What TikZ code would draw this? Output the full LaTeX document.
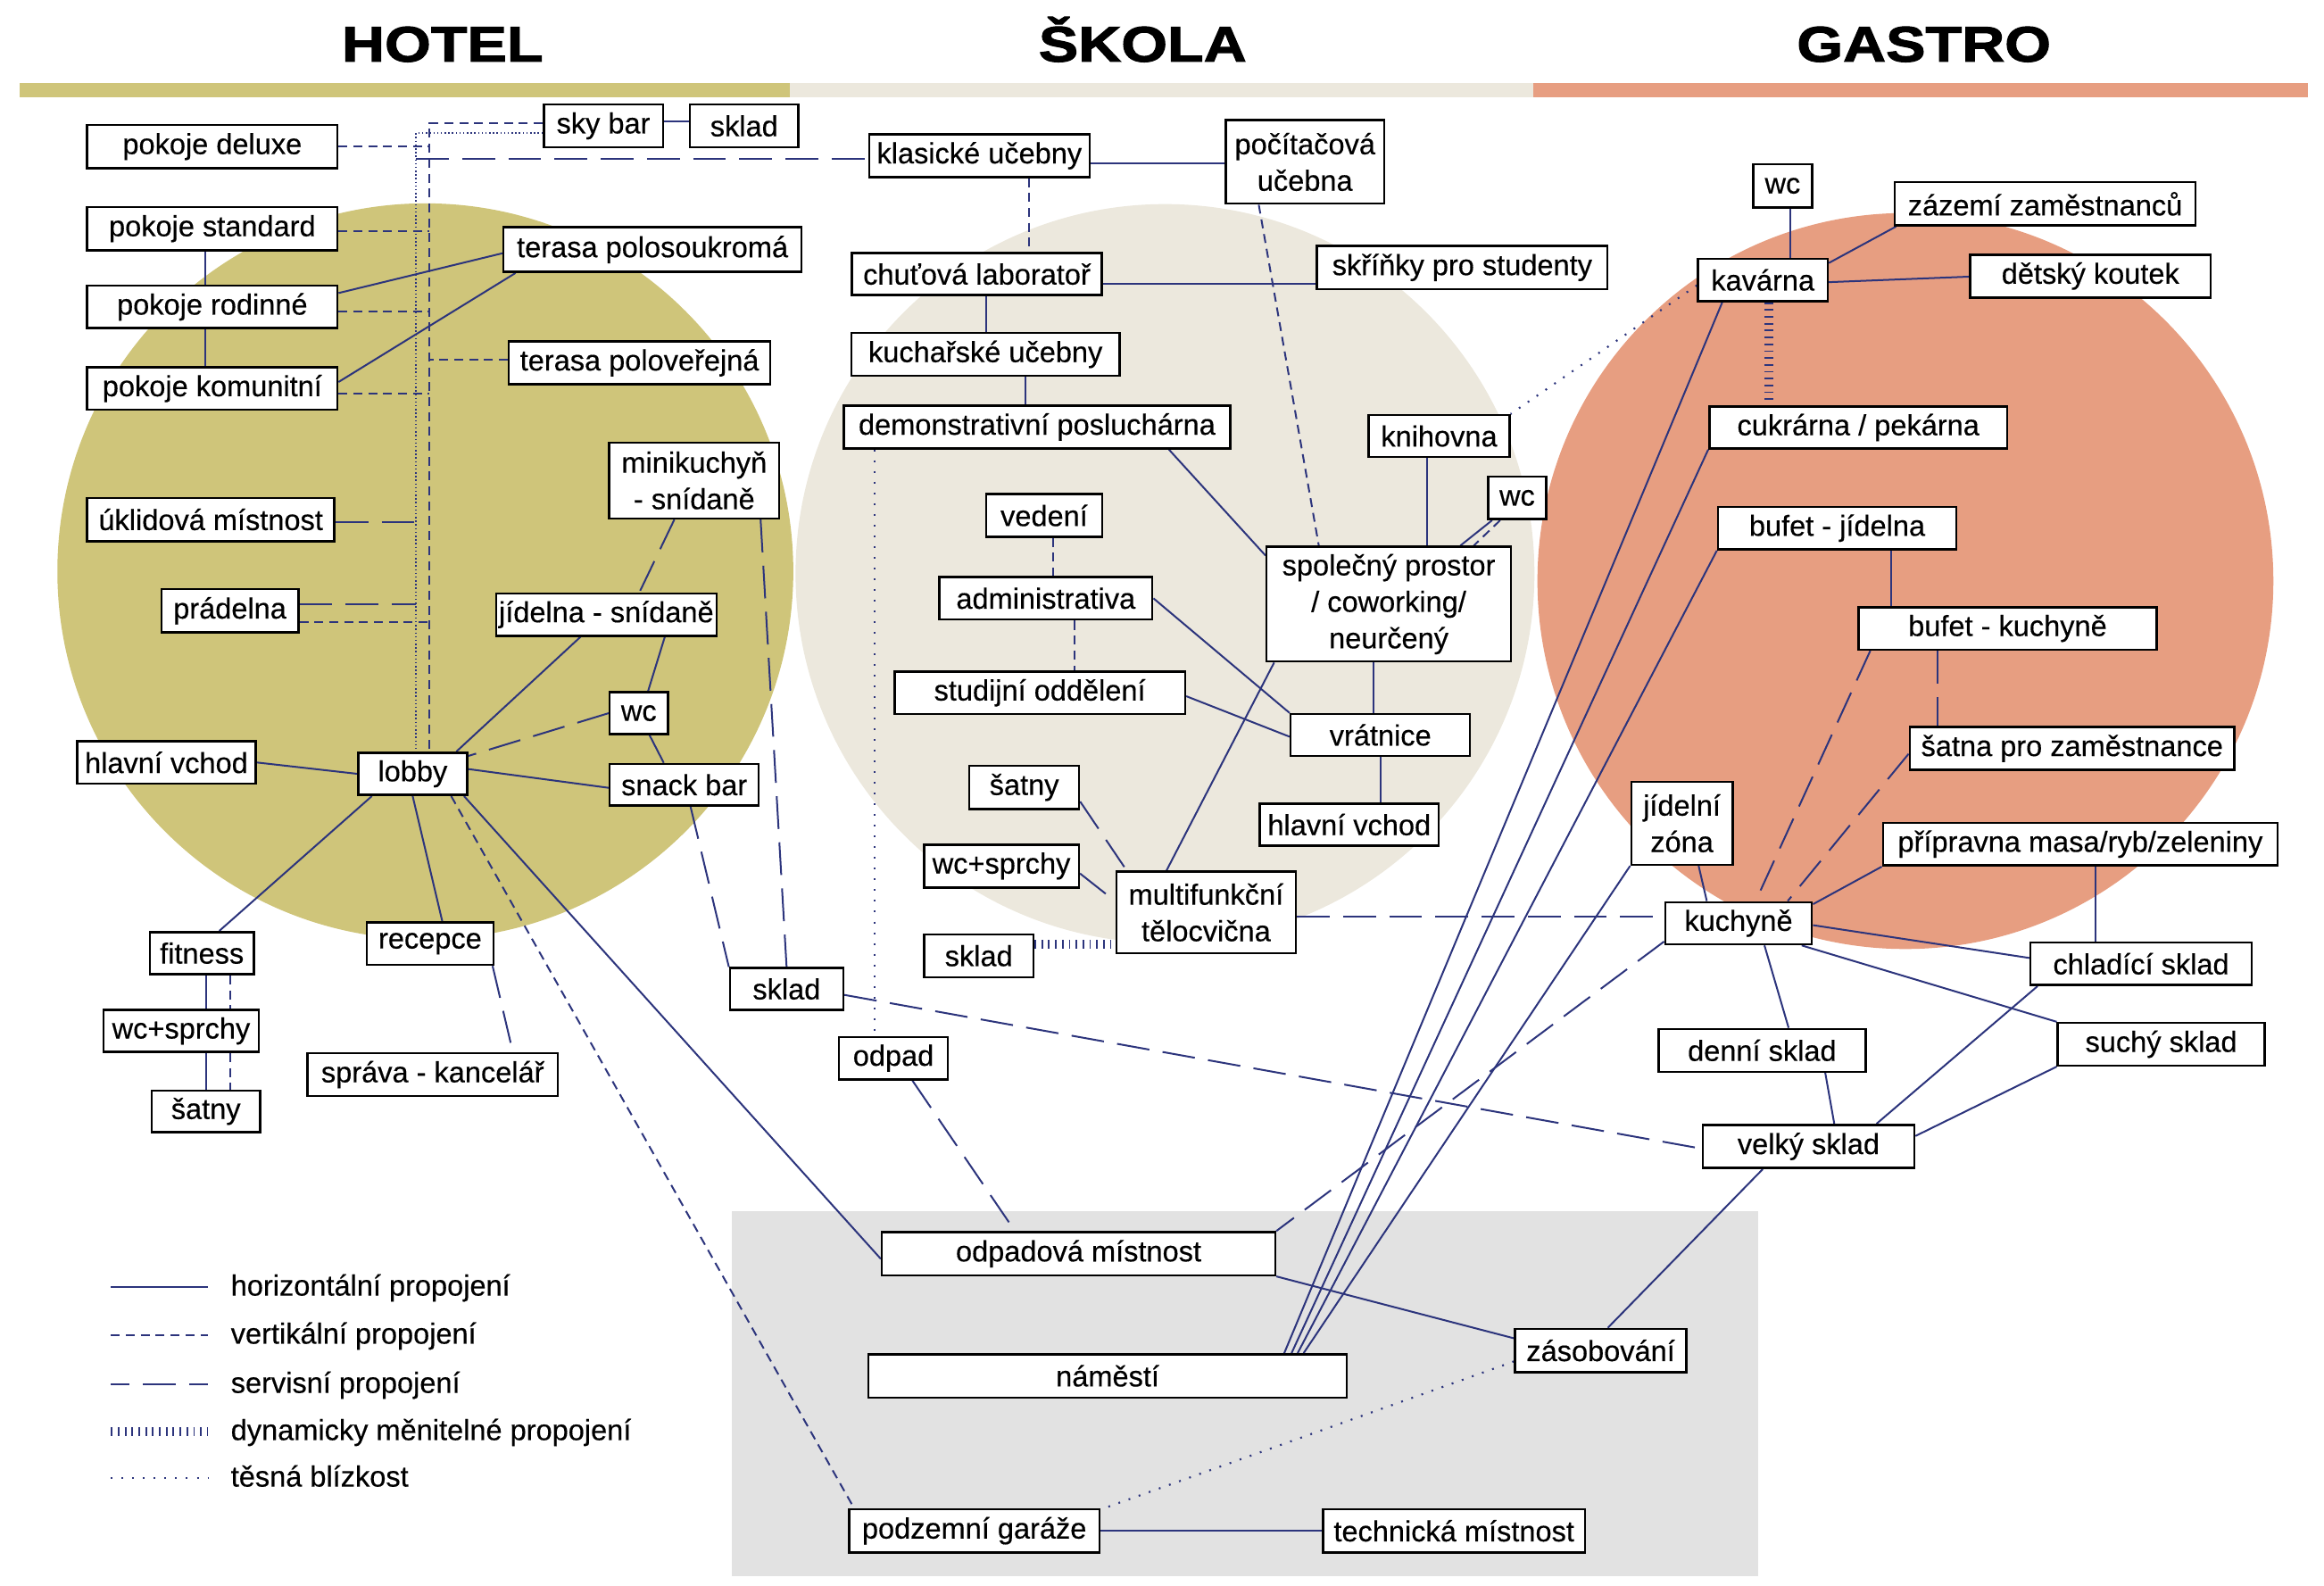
\documentclass[tikz,border=0pt]{standalone}
\usepackage{fontspec}
\setmainfont{Liberation Sans}[FakeBold=0.35]
\newfontfamily\titlefont{Liberation Sans}[FakeStretch=1.19,FakeBold=2]
\usetikzlibrary{calc}
\definecolor{navyline}{RGB}{44,52,124}
\definecolor{olivec}{RGB}{207,197,122}
\definecolor{beigec}{RGB}{236,232,221}
\definecolor{salmonc}{RGB}{231,158,129}
\definecolor{basegray}{RGB}{226,226,226}
\pgfdeclarelayer{back}
\pgfdeclarelayer{edges}
\pgfsetlayers{back,edges,main}
\tikzset{
 box/.style={draw=black, line width=1.5pt, fill=white, inner sep=0pt, align=center, font=\fontsize{19.5}{24.5}\selectfont},
 hconn/.style={draw=navyline, line width=1.2pt},
 vconn/.style={draw=navyline, line width=1.2pt, dash pattern=on 6pt off 4pt},
 sconn/.style={draw=navyline, line width=1.2pt, dash pattern=on 22pt off 9pt},
 dconn/.style={draw=navyline, line width=6pt, dash pattern=on 1.1pt off 3.5pt},
 pconn/.style={draw=navyline, line width=1.3pt, dash pattern=on 1.2pt off 6pt},
 ptight/.style={draw=navyline, line width=1pt, dash pattern=on 0.9pt off 1.6pt},
 ttl/.style={font=\titlefont\bfseries\fontsize{33.5}{36}\selectfont, anchor=base, inner sep=0pt},
 legtext/.style={font=\fontsize{19.5}{24}\selectfont, anchor=base west, inner sep=0pt},
}
\newcommand{\mybox}[6]{\node[box, minimum width=#4pt, minimum height=#5pt] (#1) at (#2,#3) {#6};}
\begin{document}
\begin{tikzpicture}[x=1pt,y=-1pt]
\useasboundingbox (0,0) rectangle (1560,1064);
\begin{pgfonlayer}{back}
\fill[olivec] (285.5,383.5) circle [radius=247pt];
\fill[beigec] (782,385) circle [radius=248pt];
\fill[salmonc] (1279,390) circle [radius=247pt];
\fill[olivec] (13,55.7) rectangle (530,65.4);
\fill[beigec] (530,55.7) rectangle (1029,65.4);
\fill[salmonc] (1029,55.7) rectangle (1549,65.4);
\fill[basegray] (491,813) rectangle (1180,1058);
\end{pgfonlayer}

% titles
\node[ttl] (thotel) at (297,41.3) {HOTEL};
\node[ttl] (tskola) at (767,41.3) {ŠKOLA};
\node[ttl] (tgastro) at (1291.4,41.3) {GASTRO};

% HOTEL nodes
\mybox{deluxe}{142.5}{98.4}{168}{29}{pokoje deluxe}
\mybox{skybar}{405}{84.5}{80}{29}{sky bar}
\mybox{skladtop}{499.5}{84.5}{73}{29}{sklad}
\mybox{standard}{142.5}{153.5}{168}{29}{pokoje standard}
\mybox{rodinne}{142.5}{206}{168}{28.5}{pokoje rodinné}
\mybox{komunitni}{142.5}{260.8}{168}{28.5}{pokoje komunitní}
\mybox{polosoukroma}{438}{167.5}{200}{30}{terasa polosoukromá}
\mybox{poloverejna}{429.3}{243.5}{175.4}{29}{terasa poloveřejná}
\mybox{minikuchyn}{466}{322.5}{114}{51}{minikuchyň\\- snídaně}
\mybox{uklidova}{141.5}{348.7}{166}{29}{úklidová místnost}
\mybox{pradelna}{154.3}{410}{92}{29}{prádelna}
\mybox{jidelna}{407}{412.5}{148}{28.5}{jídelna - snídaně}
\mybox{wchotel}{428.8}{478.7}{39}{28}{wc}
\mybox{hlavnivchod}{111.7}{511.8}{120}{28.6}{hlavní vchod}
\mybox{lobby}{277}{519.4}{73}{28.4}{lobby}
\mybox{snackbar}{459.3}{526.8}{100}{28}{snack bar}
\mybox{fitness}{135.5}{639.8}{70}{28.4}{fitness}
\mybox{recepce}{288.7}{633.4}{85}{28.4}{recepce}
\mybox{wcsprchyH}{121.6}{692}{104}{28.3}{wc+sprchy}
\mybox{sprava}{290.4}{721.3}{168}{28.6}{správa - kancelář}
\mybox{satnyH}{138.2}{746}{73}{28}{šatny}
\mybox{skladmid}{528}{663.8}{76}{28}{sklad}

% SKOLA nodes
\mybox{klasicke}{657.4}{104.5}{148}{28.7}{klasické učebny}
\mybox{pocitacova}{876}{108.7}{106.6}{56}{počítačová\\učebna}
\mybox{chutova}{655.7}{183.9}{168}{28.4}{chuťová laboratoř}
\mybox{skrinky}{981.5}{179.5}{195}{29}{skříňky pro studenty}
\mybox{kucharske}{661.5}{237.9}{180}{28.6}{kuchařské učebny}
\mybox{demonstr}{696.1}{286.6}{259.4}{28.8}{demonstrativní posluchárna}
\mybox{knihovna}{966}{292.7}{94.6}{28.2}{knihovna}
\mybox{wcskola}{1018.4}{334.2}{39}{28.6}{wc}
\mybox{vedeni}{700.9}{346}{77.8}{28.7}{vedení}
\mybox{administrativa}{702}{401.6}{143}{28.6}{administrativa}
\mybox{studijni}{698}{465}{195}{28.6}{studijní oddělení}
\mybox{satnyS}{687.5}{528.5}{73.6}{29}{šatny}
\mybox{wcsprchyS}{672.2}{581.3}{104}{28.7}{wc+sprchy}
\mybox{skladS}{657}{641.5}{73.3}{28.7}{sklad}
\mybox{multifunkcni}{809.6}{612.4}{120.4}{54.8}{multifunkční\\tělocvična}
\mybox{spolecny}{932.2}{405.5}{164}{77}{společný prostor\\/ coworking/\\neurčený}
\mybox{vratnice}{926.6}{493.3}{120.4}{28}{vrátnice}
\mybox{hlavnivchodS}{905.7}{553.5}{120}{28}{hlavní vchod}
\mybox{odpad}{599.7}{710.3}{73}{28.6}{odpad}

% GASTRO nodes
\mybox{wcG}{1196.6}{124.7}{39.7}{29}{wc}
\mybox{zazemi}{1372.8}{136.8}{202}{29}{zázemí zaměstnanců}
\mybox{kavarna}{1183.3}{187.9}{87}{28.6}{kavárna}
\mybox{detsky}{1403.2}{185.3}{161.3}{28.7}{dětský koutek}
\mybox{cukrarna}{1247.4}{287}{200}{28}{cukrárna / pekárna}
\mybox{bufetjid}{1233.2}{354.5}{160}{28.6}{bufet - jídelna}
\mybox{bufetkuch}{1347.6}{421.8}{200}{28.4}{bufet - kuchyně}
\mybox{satnaZam}{1390.9}{502.4}{218}{28.7}{šatna pro zaměstnance}
\mybox{jidelnizona}{1129}{552.6}{68}{55.6}{jídelní\\zóna}
\mybox{pripravna}{1396.4}{566.6}{265}{28.7}{přípravna masa/ryb/zeleniny}
\mybox{kuchyne}{1167}{619.7}{98.5}{28.3}{kuchyně}
\mybox{chladici}{1437.2}{646.9}{148.5}{28.6}{chladící sklad}
\mybox{denni}{1182.8}{705}{139}{28.7}{denní sklad}
\mybox{suchy}{1450.7}{700.9}{138.8}{28.6}{suchý sklad}
\mybox{velky}{1214}{769.5}{142}{29}{velký sklad}

% basement nodes
\mybox{odpadova}{724}{841.5}{264}{29}{odpadová místnost}
\mybox{namesti}{743.5}{923.5}{321}{29}{náměstí}
\mybox{zasobovani}{1074.5}{906.5}{115}{29}{zásobování}
\mybox{garaze}{654}{1027.5}{168}{29}{podzemní garáže}
\mybox{technicka}{976}{1027.5}{176}{29}{technická místnost}

\begin{pgfonlayer}{edges}
% ---- HOTEL
\coordinate (vtop) at (288.3,82.5);
\coordinate (dtop) at (279.3,89.4);
\coordinate (stop) at (279.3,106.6);
\draw[hconn] ([yshift=3pt]skybar.east) -- ([yshift=3pt]skladtop.west);
\draw[vconn] ([yshift=2pt]skybar.west) -- (vtop) -- (vtop |- lobby.north);
\draw[ptight] ([yshift=-4.9pt]skybar.west) -- (dtop) -- (dtop |- lobby.north);
\draw[sconn] (stop) -- (stop -| klasicke.west);
\draw[vconn] (deluxe.east) -- (deluxe.east -| vtop);
\coordinate (h1) at ([yshift=-1.5pt]standard.east);
\draw[vconn] (h1) -- (h1 -| vtop);
\coordinate (h2) at ([yshift=-3pt]rodinne.east);
\draw[vconn] (h2) -- (h2 -| vtop);
\coordinate (h3) at ([yshift=-3.2pt]komunitni.east);
\draw[vconn] (h3) -- (h3 -| vtop);
\coordinate (h4) at ([yshift=2pt]poloverejna.west);
\draw[vconn] (h4) -- (h4 -| vtop);
\coordinate (h5) at ([xshift=-5pt]standard.south);
\draw[hconn] (h5) -- (h5 |- rodinne.north);
\coordinate (h6) at ([xshift=-5pt]rodinne.south);
\draw[hconn] (h6) -- (h6 |- komunitni.north);
\draw[hconn] ([yshift=9.3pt]rodinne.east) -- ([yshift=-2.5pt]polosoukroma.west);
\draw[hconn] ([yshift=4.4pt]komunitni.east) -- ([xshift=8.8pt]polosoukroma.south west);
\coordinate (h7) at ([yshift=-1.7pt]uklidova.east);
\draw[sconn] (h7) -- (h7 -| dtop);
\coordinate (h8) at ([yshift=4.3pt]pradelna.east);
\draw[sconn] (h8) -- (h8 -| dtop);
\coordinate (h9) at ([yshift=-7.8pt]pradelna.east);
\draw[vconn] (h9) -- (h9 -| vtop);
\draw[sconn] ([xshift=44.4pt]minikuchyn.south west) -- ([xshift=97pt]jidelna.north west);
\draw[sconn] ([xshift=-13.2pt]minikuchyn.south east) -- (skladmid.north);
\draw[hconn] ([xshift=57.4pt]jidelna.south west) -- ([xshift=-7.9pt]lobby.north east);
\draw[hconn] ([xshift=-35.5pt]jidelna.south east) -- ([xshift=6.2pt]wchotel.north);
\draw[hconn] ([xshift=7.2pt]wchotel.south) -- ([xshift=37pt]snackbar.north west);
\draw[sconn] (wchotel.west) -- ([yshift=-3pt]lobby.north east);
\draw[hconn] (hlavnivchod.east) -- (lobby.west);
\draw[hconn] ([yshift=3.2pt]lobby.east) -- ([yshift=-2pt]snackbar.west);
\draw[hconn] ([xshift=9.9pt]lobby.south west) -- ([xshift=11.7pt]fitness.north);
\draw[hconn] (lobby.south) -- ([xshift=8.2pt]recepce.north);
\draw[vconn] ([xshift=-11.4pt]lobby.south east) -- ([xshift=4pt]garaze.north west);
\draw[hconn] ([xshift=-2.8pt]lobby.south east) -- ([yshift=-3.5pt]odpadova.west);
\draw[sconn] ([xshift=-1.3pt]recepce.south east) -- ([xshift=138.6pt]sprava.north west);
\draw[sconn] ([xshift=55pt]snackbar.south west) -- (skladmid.north west);
\coordinate (h10) at ([xshift=2.8pt]fitness.south);
\draw[hconn] (h10) -- (h10 |- wcsprchyH.north);
\coordinate (h11) at ([xshift=18.9pt]fitness.south);
\draw[vconn] (h11) -- (h11 |- wcsprchyH.north);
\coordinate (h12) at ([xshift=16.7pt]wcsprchyH.south);
\draw[hconn] (h12) -- (h12 |- satnyH.north);
\coordinate (h13) at ([xshift=32.8pt]wcsprchyH.south);
\draw[vconn] (h13) -- (h13 |- satnyH.north);
\draw[sconn] ([yshift=-4pt]skladmid.east) -- ([yshift=-1.5pt]velky.west);
% ---- SKOLA
\coordinate (s1) at ([yshift=-4.9pt]klasicke.east);
\draw[hconn] (s1) -- (s1 -| pocitacova.west);
\coordinate (s2) at ([xshift=33.6pt]klasicke.south);
\draw[vconn] (s2) -- (s2 |- chutova.north);
\coordinate (s3) at ([yshift=-6.9pt]chutova.east);
\draw[hconn] (s3) -- (s3 -| skrinky.west);
\coordinate (s4) at ([xshift=6.3pt]chutova.south);
\draw[hconn] (s4) -- (s4 |- kucharske.north);
\coordinate (s5) at ([xshift=26.7pt]kucharske.south);
\draw[hconn] (s5) -- (s5 |- demonstr.north);
\draw[vconn] ([xshift=23pt]pocitacova.south west) -- ([xshift=35.8pt]spolecny.north west);
\draw[hconn] ([xshift=219pt]demonstr.south west) -- ([yshift=-6.6pt]spolecny.north west);
\coordinate (s6) at ([xshift=21.3pt]demonstr.south west);
\draw[pconn] (s6) -- (s6 |- odpad.north);
\coordinate (s7) at ([xshift=-7.8pt]knihovna.south);
\draw[hconn] (s7) -- (s7 |- spolecny.north);
\draw[hconn] ([xshift=3.4pt]wcskola.south west) -- ([xshift=130.8pt]spolecny.north west);
\draw[vconn] ([xshift=8.8pt]wcskola.south west) -- ([xshift=139.8pt]spolecny.north west);
\coordinate (s8) at ([xshift=6.2pt]vedeni.south);
\draw[vconn] (s8) -- (s8 |- administrativa.north);
\coordinate (s9) at ([xshift=19.5pt]administrativa.south);
\draw[vconn] (s9) -- (s9 |- studijni.north);
\draw[hconn] (administrativa.east) -- (vratnice.north west);
\draw[hconn] ([yshift=-2.3pt]studijni.east) -- ([yshift=-1.2pt]vratnice.west);
\coordinate (s10) at ([xshift=-10.1pt]spolecny.south);
\draw[hconn] (s10) -- (s10 |- vratnice.north);
\draw[hconn] (vratnice.south) -- (vratnice.south |- hlavnivchodS.north);
\draw[hconn] ([xshift=5.8pt]spolecny.south west) -- ([xshift=34.4pt]multifunkcni.north west);
\draw[sconn] ([yshift=-9.5pt]satnyS.east) -- ([xshift=7.6pt]multifunkcni.north west);
\draw[sconn] ([yshift=-5pt]wcsprchyS.east) -- ([yshift=7.4pt]multifunkcni.west);
\coordinate (s11) at ([yshift=7.5pt]skladS.east);
\draw[dconn] (s11) -- (s11 -| multifunkcni.west);
\coordinate (s12) at ([yshift=-2.6pt]multifunkcni.east);
\draw[sconn] (s12) -- (s12 -| kuchyne.west);
\draw[sconn] ([xshift=12.8pt]odpad.south) -- ([xshift=90pt]odpadova.north west);
% ---- GASTRO
\coordinate (g1) at ([xshift=5.1pt]wcG.south);
\draw[hconn] (g1) -- (g1 |- kavarna.north);
\draw[hconn] ([yshift=-3.7pt]kavarna.north east) -- ([xshift=1.7pt]zazemi.south west);
\draw[hconn] ([yshift=-1.5pt]kavarna.east) -- ([yshift=-0.4pt]detsky.west);
\coordinate (g2) at ([xshift=4.2pt]kavarna.south);
\draw[dconn] (g2) -- (g2 |- cukrarna.north);
\draw[pconn] ([yshift=-3.6pt]kavarna.west) -- (knihovna.north east);
\draw[hconn] ([xshift=17pt]kavarna.south west) -- ([xshift=279.8pt]namesti.north west);
\draw[hconn] (cukrarna.south west) -- ([xshift=284.7pt]namesti.north west);
\draw[hconn] (bufetjid.south west) -- ([xshift=288.8pt]namesti.north west);
\draw[hconn] (jidelnizona.south west) -- ([xshift=292.8pt]namesti.north west);
\coordinate (g3) at ([xshift=36.2pt]bufetjid.south);
\draw[hconn] (g3) -- (g3 |- bufetkuch.north);
\draw[sconn] ([xshift=8.6pt]bufetkuch.south west) -- ([xshift=61.5pt]kuchyne.north west);
\coordinate (g4) at ([xshift=-46.8pt]bufetkuch.south);
\draw[sconn] (g4) -- (g4 |- satnaZam.north);
\draw[sconn] ([yshift=-3.6pt]satnaZam.west) -- ([xshift=-17pt]kuchyne.north east);
\draw[hconn] (pripravna.south west) -- ([yshift=-2.1pt]kuchyne.north east);
\coordinate (g5) at ([xshift=10.1pt]pripravna.south);
\draw[hconn] (g5) -- (g5 |- chladici.north);
\draw[hconn] ([xshift=11.2pt]jidelnizona.south) -- ([xshift=28.7pt]kuchyne.north west);
\draw[hconn] ([yshift=-1.3pt]kuchyne.east) -- ([yshift=3.9pt]chladici.west);
\draw[hconn] ([xshift=-7.6pt]kuchyne.south east) -- (suchy.north west);
\draw[hconn] ([xshift=17.4pt]kuchyne.south) -- ([xshift=17.8pt]denni.north);
\draw[hconn] ([xshift=42.4pt]denni.south) -- ([xshift=89pt]velky.north west);
\draw[hconn] ([xshift=5.5pt]chladici.south west) -- ([xshift=117.4pt]velky.north west);
\draw[hconn] (suchy.south west) -- ([yshift=7pt]velky.east);
\draw[hconn] ([xshift=41pt]velky.south west) -- ([xshift=63pt]zasobovani.north west);
\draw[hconn] (odpadova.south east) -- ([yshift=8.2pt]zasobovani.west);
\draw[sconn] ([yshift=2.6pt]kuchyne.south west) -- (odpadova.north east);
\draw[pconn] ([yshift=-7.3pt]zasobovani.west) -- ([xshift=2.6pt]garaze.north east);
\draw[hconn] (garaze.east) -- (technicka.west);
\end{pgfonlayer}

% legend
\coordinate (l1a) at (74.5,864);   \coordinate (l1b) at (139.5,864);
\coordinate (l2a) at (74.5,896.3); \coordinate (l2b) at (139.5,896.3);
\coordinate (l3a) at (74.5,929.3); \coordinate (l3b) at (139.5,929.3);
\coordinate (l4a) at (74.5,961);   \coordinate (l4b) at (139.5,961);
\coordinate (l5a) at (74.5,992.2); \coordinate (l5b) at (139.5,992.2);
\draw[hconn] (l1a) -- (l1b);
\draw[vconn] (l2a) -- (l2b);
\draw[sconn, dash phase=9.4pt] (l3a) -- (l3b);
\draw[dconn] (l4a) -- (l4b);
\draw[pconn] (l5a) -- (l5b);
\node[legtext] (lt1) at (154.8,869.6) {horizontální propojení};
\node[legtext] (lt2) at (154.8,901.9) {vertikální propojení};
\node[legtext] (lt3) at (154.8,934.9) {servisní propojení};
\node[legtext] (lt4) at (154.8,966.6) {dynamicky měnitelné propojení};
\node[legtext] (lt5) at (154.8,997.8) {těsná blízkost};
\end{tikzpicture}
\end{document}
